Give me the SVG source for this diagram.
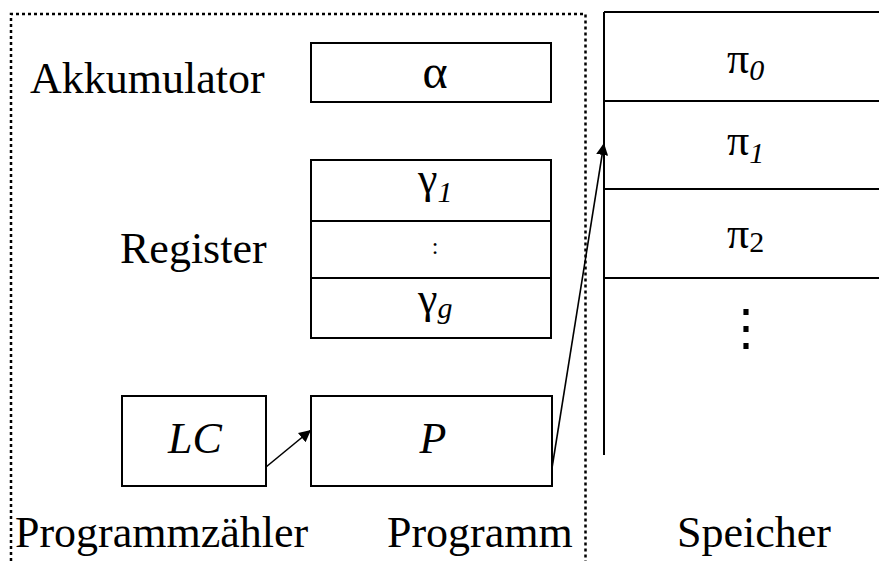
<svg xmlns="http://www.w3.org/2000/svg" width="879" height="561" viewBox="0 0 879 561" font-family="Liberation Serif, DejaVu Serif, serif">
  <style>
    .box { fill: #fff; stroke: #000; stroke-width: 2; }
    .ln { fill: none; stroke: #000; stroke-width: 2; }
    .frame { fill: none; stroke: #000; stroke-width: 2.5; stroke-dasharray: 3 3; }
    .conn { fill: none; stroke: #000; stroke-width: 1.6; }
    text { font-family: 'Liberation Serif', 'DejaVu Serif', serif; font-size: 44px; fill: #000; }
    .mid { text-anchor: middle; }
    .sub { font-size: 30px; font-style: italic; }
    .subu { font-size: 30px; }
    .it { font-style: italic; }
  </style>
  <defs>
    <marker id="head" viewBox="0 0 12 12" refX="12" refY="6" markerWidth="12" markerHeight="12" markerUnits="userSpaceOnUse" orient="auto">
      <path d="M0,0 L12,6 L0,12 Z" fill="#000"/>
    </marker>
  </defs>

  <!-- CPU frame (dotted) -->
  <path class="frame" d="M11,561 V14 H585.5 V561"/>

  <!-- labels -->
  <text x="30" y="93">Akkumulator</text>
  <text x="120" y="263">Register</text>
  <text x="15" y="547">Programmzähler</text>
  <text x="387" y="547">Programm</text>
  <text x="677" y="547">Speicher</text>

  <!-- accumulator -->
  <g id="akku">
    <rect class="box" x="311" y="43" width="240" height="59"/>
    <text class="mid" x="435" y="88" style="font-size:48px">α</text>
  </g>

  <!-- registers -->
  <g id="register">
    <rect class="box" x="311" y="160" width="240" height="178"/>
    <line class="ln" x1="311" y1="221" x2="551" y2="221"/>
    <line class="ln" x1="311" y1="278" x2="551" y2="278"/>
    <text x="418" y="193">γ<tspan class="sub" dy="9">1</tspan></text>
    <text class="mid" x="435" y="254" style="font-size:24px">:</text>
    <text x="418" y="313">γ<tspan class="sub" dy="5">g</tspan></text>
  </g>

  <!-- program counter -->
  <g id="lc">
    <rect class="box" x="122" y="396" width="144" height="90"/>
    <text class="mid it" x="195" y="453">LC</text>
  </g>

  <!-- program register -->
  <g id="p">
    <rect class="box" x="311" y="396" width="241" height="90"/>
    <text class="mid it" x="433" y="453">P</text>
  </g>

  <!-- memory -->
  <g id="speicher">
    <line class="ln" x1="604" y1="12" x2="604" y2="455"/>
    <line class="ln" x1="604" y1="12" x2="879" y2="12"/>
    <line class="ln" x1="604" y1="101" x2="879" y2="101"/>
    <line class="ln" x1="604" y1="189" x2="879" y2="189"/>
    <line class="ln" x1="604" y1="278" x2="879" y2="278"/>
    <text x="727" y="73">π<tspan class="sub" dy="7">0</tspan></text>
    <text x="727" y="155">π<tspan class="sub" dy="8">1</tspan></text>
    <text x="727" y="248">π<tspan class="subu" dy="4">2</tspan></text>
    <text class="mid" x="746" y="344" style="font-family:'DejaVu Serif', serif; font-size:50px">⋮</text>
  </g>

  <!-- connectors -->
  <g id="connectors">
    <line class="conn" x1="266" y1="467" x2="311" y2="430" marker-end="url(#head)"/>
    <line class="conn" x1="552" y1="468" x2="604" y2="143" marker-end="url(#head)"/>
  </g>
</svg>
